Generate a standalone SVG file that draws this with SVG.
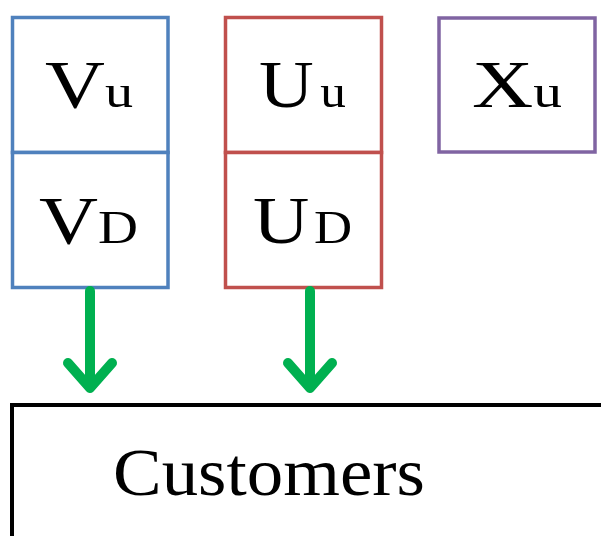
<svg xmlns="http://www.w3.org/2000/svg" width="601" height="536" viewBox="0 0 601 536">
<style>
.box{fill:#fff;stroke-width:3.5}
.blue{stroke:#4f81bd}
.red{stroke:#c0504d}
.purple{stroke:#8064a2}
.lbl{font-family:"Liberation Serif","Times New Roman",Times,"DejaVu Serif","Noto Serif",Tinos,FreeSerif,serif;font-size:68px;fill:#000}
.sub{font-size:46px}
.arrow{fill:none;stroke:#00b050;stroke-width:10;stroke-linecap:round;stroke-linejoin:round}
</style>
<rect width="601" height="536" fill="#fff"/>
<g id="Vu"><rect class="box blue" x="12.5" y="17.5" width="155.5" height="135"/><text class="lbl" x="89" y="107" text-anchor="middle" textLength="88" lengthAdjust="spacingAndGlyphs">V<tspan class="sub">u</tspan></text></g>
<g id="VD"><rect class="box blue" x="12.5" y="152.5" width="155.5" height="135"/><text class="lbl" x="88.5" y="243" text-anchor="middle" textLength="99" lengthAdjust="spacingAndGlyphs">V<tspan class="sub">D</tspan></text></g>
<g id="Uu"><rect class="box red" x="225.5" y="17.5" width="156" height="135"/><text class="lbl" x="302.5" y="107" text-anchor="middle" textLength="87" lengthAdjust="spacingAndGlyphs">U<tspan class="sub" dx="6">u</tspan></text></g>
<g id="UD"><rect class="box red" x="225.5" y="152.5" width="156" height="135"/><text class="lbl" x="302.5" y="243" text-anchor="middle" textLength="99" lengthAdjust="spacingAndGlyphs">U<tspan class="sub" dx="4">D</tspan></text></g>
<g id="Xu"><rect class="box purple" x="439" y="18" width="156" height="134"/><text class="lbl" x="517" y="107" text-anchor="middle" textLength="90" lengthAdjust="spacingAndGlyphs">X<tspan class="sub">u</tspan></text></g>
<g id="Customers"><rect x="12" y="405" width="600" height="150" fill="#fff" stroke="#000" stroke-width="4"/><text class="lbl" x="269" y="495" text-anchor="middle" font-size="72" textLength="312" lengthAdjust="spacingAndGlyphs">Customers</text></g>
<g id="connectors">
<path class="arrow" d="M90 291V388M68 363L90 388L112 363"/>
<path class="arrow" d="M310 291V388M288 363L310 388L332 363"/>
</g>
</svg>
